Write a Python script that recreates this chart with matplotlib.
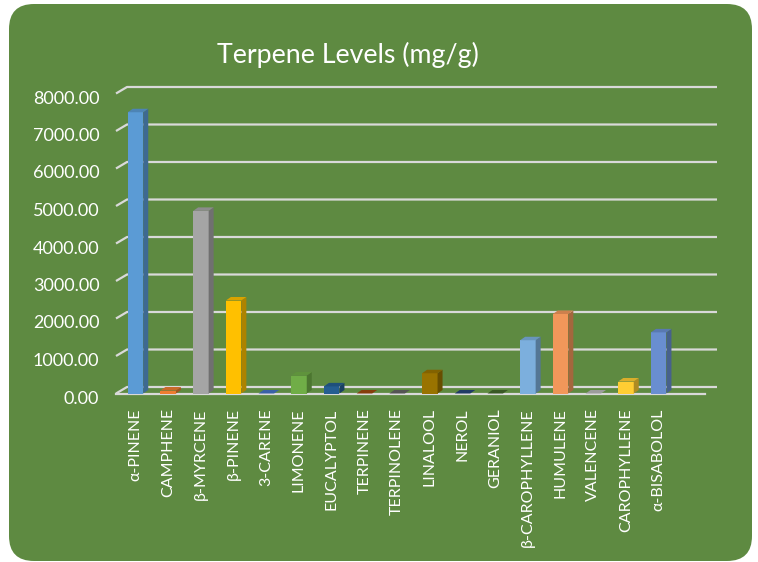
import matplotlib
matplotlib.use("Agg")
import matplotlib.pyplot as plt
from matplotlib.patches import FancyBboxPatch, Polygon
from matplotlib.colors import to_rgb
from matplotlib.transforms import ScaledTranslation

# data
terpenes = ["α-PINENE", "CAMPHENE", "β-MYRCENE", "β-PINENE", "3-CARENE", "LIMONENE",
            "EUCALYPTOL", "TERPINENE", "TERPINOLENE", "LINALOOL", "NEROL", "GERANIOL",
            "β-CAROPHYLLENE", "HUMULENE", "VALENCENE", "CAROPHYLLENE", "α-BISABOLOL"]
levels = [7500, 80, 4870, 2480, 0, 480, 190, 0, 0, 540, 0, 0, 1420, 2120, 0, 320, 1630]
bar_colors = ["#5B9BD5", "#ED7D31", "#A5A5A5", "#FFC000", "#4472C4", "#70AD47",
              "#255E91", "#9E480E", "#636363", "#997300", "#264478", "#43682B",
              "#7CAFDD", "#F1975A", "#B7B7B7", "#FFCD33", "#698ED0"]
y_ticks = [0, 1000, 2000, 3000, 4000, 5000, 6000, 7000, 8000]
title = "Terpene Levels (mg/g)"

BG = "#5E8A41"
GRID = "#D9D9D9"
FONT = "Lato"

W, H = 758, 562
# pixel geometry of the plot (front plane)
px_cat, px_x0 = 32.7, 135.5         # px per category, px of first category
px_val, px_y0 = 0.0375, 393.5       # px per unit, px of zero
ax_l, ax_r, ax_t, ax_b = 116, 717, 80, 400

fig = plt.figure(figsize=(W / 100, H / 100), dpi=100)
fig.patch.set_facecolor("white")
fig.patches.append(FancyBboxPatch((0.09, 0.01), 7.43, 5.57,
                                  boxstyle="round,pad=0,rounding_size=0.25",
                                  transform=fig.dpi_scale_trans,
                                  facecolor=BG, edgecolor="none", zorder=-5))

ax = fig.add_axes([ax_l / W, 1 - ax_b / H, (ax_r - ax_l) / W, (ax_b - ax_t) / H])
ax.patch.set_visible(False)
for s in ax.spines.values():
    s.set_visible(False)
xl, xr = (ax_l - px_x0) / px_cat, (ax_r - px_x0) / px_cat
ax.set_xlim(xl, xr)
ax.set_ylim((px_y0 - ax_b) / px_val, (px_y0 - ax_t) / px_val)

# back wall gridlines with depth
wdx, wdy = 11 / px_cat, 6.5 / px_val
for v in y_ticks:
    ax.plot([xl, xl + wdx, xr], [v, v + wdy, v + wdy], color=GRID, lw=1.6,
            solid_capstyle="butt", zorder=1, clip_on=False)
ax.plot([xl, (705 - px_x0) / px_cat], [0, 0], color=GRID, lw=1.6, zorder=1, clip_on=False)

# 3d-ish columns
hw = 7.75 / px_cat
bdx, bdy = 5 / px_cat, 3.5 / px_val


def shade(c, f):
    return tuple(ch * f for ch in to_rgb(c))


for i, (v, c) in enumerate(zip(levels, bar_colors)):
    ax.bar(i, v, width=2 * hw, color=c, zorder=3)
    ax.add_patch(Polygon([(i + hw, 0), (i + hw + bdx, bdy), (i + hw + bdx, v + bdy), (i + hw, v)],
                         closed=True, facecolor=shade(c, 0.68), edgecolor="none", zorder=3))
    ax.add_patch(Polygon([(i - hw, v), (i + hw, v), (i + hw + bdx, v + bdy), (i - hw + bdx, v + bdy)],
                         closed=True, facecolor=shade(c, 0.85), edgecolor="none", zorder=3))

ax.set_xticks(range(len(terpenes)), terpenes, rotation=90)
ax.set_yticks(y_ticks, [f"{v:.2f}" for v in y_ticks])
ax.tick_params(axis="x", length=0, pad=6, colors="white", labelsize=11.5)
ax.tick_params(axis="y", length=0, pad=12, colors="white", labelsize=13)
for lab in ax.get_xticklabels() + ax.get_yticklabels():
    lab.set_fontfamily(FONT)
# excel puts the value labels a touch below the front tick
down = ScaledTranslation(0, -0.035, fig.dpi_scale_trans)
for lab in ax.get_yticklabels():
    lab.set_transform(lab.get_transform() + down)

fig.text(347.5 / W, 1 - 63 / H, title, ha="center", va="baseline",
         color="white", fontsize=19.3, fontfamily=FONT)

fig.savefig("out.png", dpi=100)
